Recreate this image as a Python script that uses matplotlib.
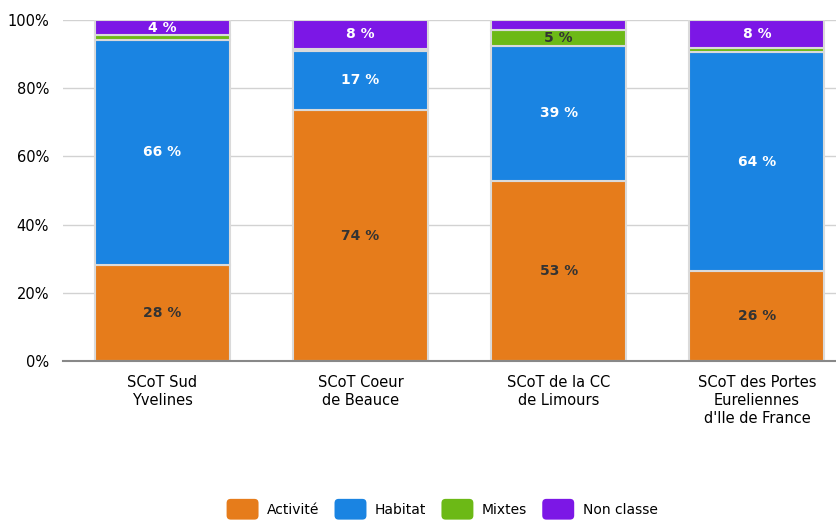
import matplotlib
matplotlib.use("Agg")
import matplotlib.pyplot as plt
from matplotlib.patches import FancyBboxPatch
from matplotlib.legend_handler import HandlerPatch
import numpy as np

categories = ["SCoT Sud\nYvelines", "SCoT Coeur\nde Beauce", "SCoT de la CC\nde Limours",
              "SCoT des Portes\nEureliennes\nd'Ile de France"]
series_names = ["Activité", "Habitat", "Mixtes", "Non classe"]
activite = [28.2, 73.6, 52.9, 26.4]
habitat = [65.9, 17.4, 39.4, 64.2]
mixtes = [1.5, 0.5, 4.8, 1.2]
non_classe = [4.4, 8.5, 2.9, 8.2]
y_ticks = [0, 20, 40, 60, 80, 100]

series = [activite, habitat, mixtes, non_classe]
colors = ["#E67C1B", "#1A84E2", "#6CB916", "#7C17E6"]
label_colors = ["#333333", "white", "#333333", "white"]

plt.rcParams['font.family'] = ['DejaVu Sans']
fig = plt.figure(figsize=(8.36, 5.2), dpi=100)
ax = fig.add_axes([63/836, 1-361/520, (856-63)/836, (361-20)/520])

x = np.arange(len(categories))
width = 0.68
bottom = np.zeros(len(categories))
for vals, col, lc in zip(series, colors, label_colors):
    vals = np.array(vals)
    ax.bar(x, vals, width, bottom=bottom, color=col, edgecolor="#dadada", linewidth=1.5, zorder=3)
    for xi, b, v in zip(x, bottom, vals):
        if v >= 3.5:
            ax.text(xi, b + v/2, f"{round(v):d} %", ha="center", va="center",
                    color=lc, fontsize=10, fontweight="bold", zorder=4)
    bottom += vals

ax.set_xlim(-0.5, 3.5)
ax.set_ylim(0, 100)
ax.set_yticks(y_ticks)
ax.set_yticklabels([f"{t}%" for t in y_ticks], fontsize=10.5)
ax.set_xticks(x)
ax.set_xticklabels(categories, fontsize=10.5, linespacing=1.25, va="top")
ax.tick_params(axis="both", length=0, pad=10)
ax.tick_params(axis="x", pad=10)
ax.yaxis.grid(True, color="#d2d2d2", linewidth=1.0, zorder=0)
for s in ["left", "right", "top"]:
    ax.spines[s].set_visible(False)
ax.spines["bottom"].set_color("#888888")
ax.spines["bottom"].set_linewidth(1.5)
ax.spines["bottom"].set_zorder(5)


class RoundHandler(HandlerPatch):
    def create_artists(self, legend, orig_handle, xdescent, ydescent, width, height, fontsize, trans):
        p = FancyBboxPatch((-xdescent, -ydescent - 3), width, height + 6,
                           boxstyle="round,pad=0,rounding_size=3",
                           facecolor=orig_handle.get_facecolor(), edgecolor="none", transform=trans)
        return [p]


handles = [plt.Rectangle((0, 0), 1, 1, facecolor=c) for c in colors]
leg = fig.legend(handles, series_names, loc="center", bbox_to_anchor=(442/836, 1-510/520),
                 ncol=4, frameon=False, fontsize=10, handlelength=2.3, handleheight=1.0,
                 columnspacing=1.1, handletextpad=0.6,
                 handler_map={plt.Rectangle: RoundHandler()})

fig.savefig("out.png", dpi=100)
